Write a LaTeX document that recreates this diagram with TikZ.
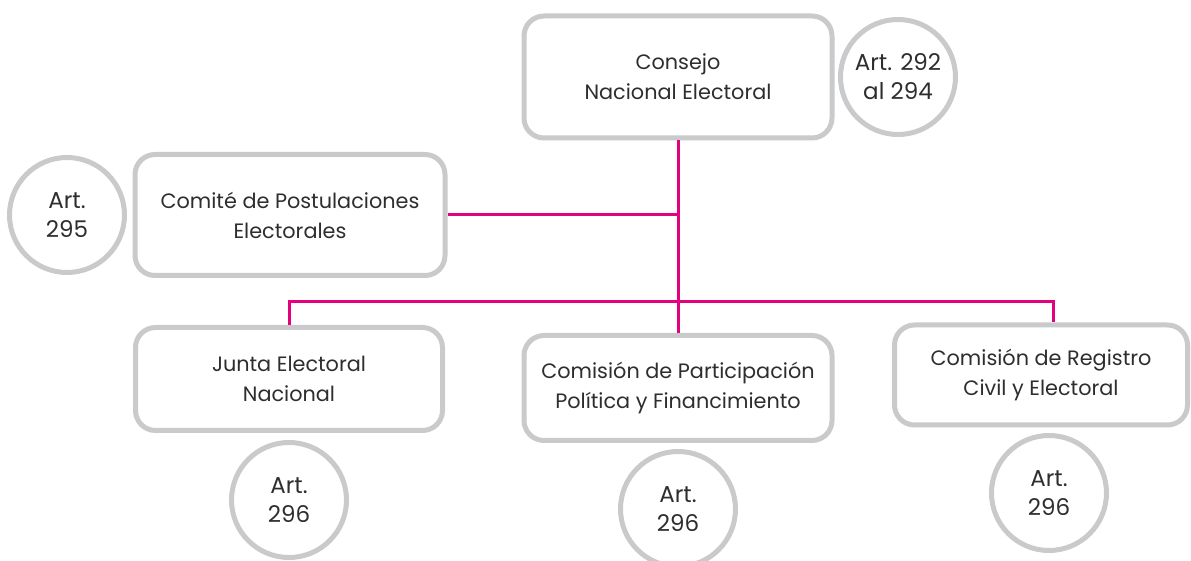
\documentclass[tikz,border=0pt]{standalone}
\usepackage{fontspec}
\setmainfont{Poppins}
\usetikzlibrary{positioning,shadows}

\definecolor{rimgray}{HTML}{C9CACC}
\definecolor{linkpink}{HTML}{E5007E}
\definecolor{textgray}{HTML}{2E2E2E}

\tikzset{
  organ/.style={draw=rimgray, line width=2.5pt, fill=white, rounded corners=10pt,
    align=center, text=textgray, font=\fontsize{10.4}{15}\selectfont,
    drop shadow={shadow xshift=0.6pt, shadow yshift=-0.8pt, opacity=0.25}},
  article/.style={circle, draw=rimgray, line width=2.5pt, fill=white, inner sep=0pt,
    minimum size=57.5pt, align=center, text=textgray, font=\fontsize{11.5}{14.5}\selectfont,
    drop shadow={shadow xshift=0.6pt, shadow yshift=-0.8pt, opacity=0.25}},
  link/.style={draw=linkpink, line width=1.5pt}
}

\begin{document}
\begin{tikzpicture}[node distance=60pt, on grid]
  \useasboundingbox (0,0) rectangle (595.5pt,-280.5pt);

  \node[organ, minimum width=154pt, minimum height=61pt] (cne) at (339pt,-38.5pt)
    {Consejo\\Nacional Electoral};
  \node[article] (a1) [right=110pt of cne] {Art. 292\\al 294};

  \node[organ, minimum width=155pt, minimum height=60.5pt] (cpe) [below left=69pt and 194pt of cne]
    {Comité de Postulaciones\\Electorales};
  \node[article] (a2) [left=111.5pt of cpe] {Art.\\295};

  \node[organ, minimum width=154pt, minimum height=52.5pt] (cpp) [below=155.5pt of cne]
    {Comisión de Participación\\Política y Financimiento};
  \node[article] (a4) [below=60.5pt of cpp] {Art.\\296};

  \node[organ, minimum width=153.5pt, minimum height=51.5pt] (jen) [above left=4.5pt and 194.5pt of cpp]
    {Junta Electoral\\Nacional};
  \node[article] (a3) [below=60.5pt of jen] {Art.\\296};

  \node[organ, minimum width=146.5pt, minimum height=50pt] (crc) [above right=6.5pt and 181.5pt of cpp]
    {Comisión de Registro\\Civil y Electoral};
  \node[article] (a5) [below right=59pt and 4pt of crc] {Art.\\296};

  % connectors
  \coordinate (bus) at (cne.south |- 0,-151pt);
  \draw[link] (cne.south) -- (cpp.north);
  \draw[link] (cpe.east) -- (cpe.east -| cne.south);
  \draw[link] (jen.north) |- (bus) -| ([xshift=6pt]crc.north);
\end{tikzpicture}
\end{document}
